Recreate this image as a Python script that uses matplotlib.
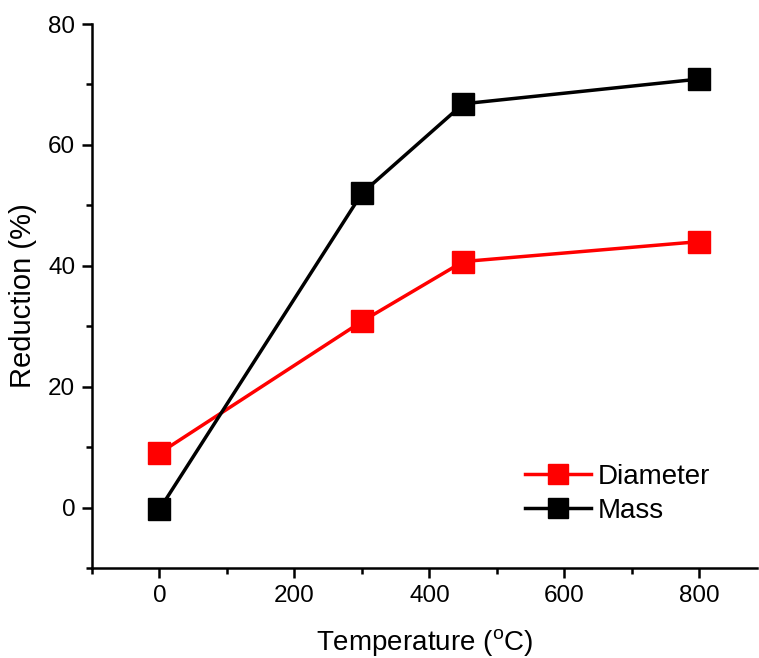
import matplotlib
matplotlib.use("Agg")
import matplotlib.pyplot as plt
from matplotlib.ticker import MultipleLocator

plt.rcParams['font.family'] = ['Liberation Sans', 'DejaVu Sans']
plt.rcParams['mathtext.fontset'] = 'custom'
plt.rcParams['mathtext.rm'] = 'Liberation Sans'

# data
temperature = [0, 300, 450, 800]
diameter = [9.0, 30.8, 40.7, 44.0]
mass = [-0.3, 52.0, 66.8, 70.9]

fig = plt.figure(figsize=(7.59, 6.58), dpi=100)
ax = fig.add_axes([0.1212, 0.1368, 0.876, 0.8267])

ax.plot(temperature, diameter, color='#ff0000', lw=2.5, marker='s', ms=15.5,
        label='Diameter')
ax.plot(temperature, mass, color='black', lw=2.5, marker='s', ms=15.5,
        label='Mass')

ax.set_xlim(-100, 885)
ax.set_ylim(-10, 80)
ax.xaxis.set_major_locator(MultipleLocator(200))
ax.xaxis.set_minor_locator(MultipleLocator(100))
ax.yaxis.set_major_locator(MultipleLocator(20))
ax.yaxis.set_minor_locator(MultipleLocator(10))

for s in ['top', 'right']:
    ax.spines[s].set_visible(False)
for s in ['left', 'bottom']:
    ax.spines[s].set_linewidth(1.8)

ax.tick_params(which='major', direction='out', length=7, width=1.8,
               labelsize=17.5, pad=5)
ax.tick_params(which='minor', direction='out', length=4, width=1.8)

ax.set_xlabel(r'Temperature ($^{\mathrm{o}}$C)', fontsize=20, labelpad=15)
ax.set_ylabel('Reduction (%)', fontsize=21, labelpad=8)

ax.legend(loc='lower right', bbox_to_anchor=(0.968, 0.035), frameon=False,
          fontsize=20, handlelength=2.4, handletextpad=0.25, labelspacing=0.3,
          markerscale=0.9)

fig.savefig('out.png', dpi=100)
